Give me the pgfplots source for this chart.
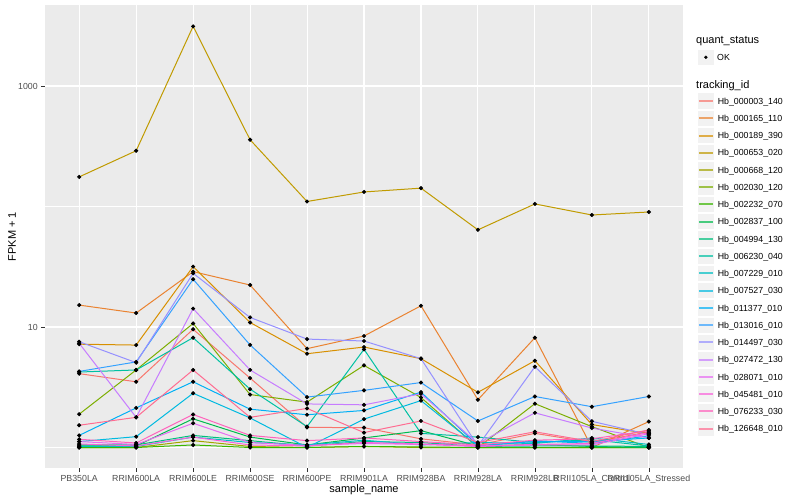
\documentclass[border=0pt]{standalone}
\usepackage{pgfplots}
\pgfplotsset{compat=1.18}
\usepackage{pgfplotstable}
\usepackage{fontspec}
\setmainfont{Liberation Sans}

\definecolor{panelbg}{HTML}{EBEBEB}
\definecolor{keybg}{HTML}{F2F2F2}
\definecolor{labgray}{HTML}{4D4D4D}
\definecolor{tickgray}{HTML}{333333}
\definecolor{c1}{HTML}{F8766D}
\definecolor{c2}{HTML}{EA8331}
\definecolor{c3}{HTML}{D89000}
\definecolor{c4}{HTML}{C09B00}
\definecolor{c5}{HTML}{A3A500}
\definecolor{c6}{HTML}{7CAE00}
\definecolor{c7}{HTML}{39B600}
\definecolor{c8}{HTML}{00BB4E}
\definecolor{c9}{HTML}{00BF7D}
\definecolor{c10}{HTML}{00C1A3}
\definecolor{c11}{HTML}{00BFC4}
\definecolor{c12}{HTML}{00BAE0}
\definecolor{c13}{HTML}{00B0F6}
\definecolor{c14}{HTML}{35A2FF}
\definecolor{c15}{HTML}{9590FF}
\definecolor{c16}{HTML}{C77CFF}
\definecolor{c17}{HTML}{E76BF3}
\definecolor{c18}{HTML}{FA62DB}
\definecolor{c19}{HTML}{FF62BC}
\definecolor{c20}{HTML}{FF6C91}

% FPKM + 1 per sample (x = sample index 0..10)
\pgfplotstableread{
x  s1   s2    s3   s4   s5   s6   s7   s8   s9   s10  s11  s12  s13  s14  s15  s16  s17  s18  s19  s20
0  4.10 15.2  7.2  176  1.00 1.89 1.00 1.03 1.05 4.23 1.02 1.12 1.26 4.28 7.55 7.33 1.12 1.07 1.17 1.53
1  3.51 13.06 7.08 290  1.00 4.40 1.00 1.03 1.05 4.40 1.02 1.23 2.13 5.13 5.06 1.78 1.06 1.03 1.09 1.78
2  9.57 28.8  31.7 3125 1.14 10.7 1.05 1.73 1.26 8.15 1.22 2.82 3.51 24.9 27.9 14.2 1.59 1.22 1.88 4.40
3  3.77 22.3  10.9 358  1.02 2.75 1.00 1.22 1.14 3.05 1.10 1.76 2.08 7.10 12.0 4.40 1.10 1.05 1.26 1.78
4  1.47 6.61  6.0  110  1.00 2.38 1.00 1.05 1.03 1.49 1.05 1.00 1.87 2.62 7.94 2.30 1.04 1.03 1.14 2.11
5  1.46 8.42  6.82 132  1.02 4.80 1.02 1.20 1.12 6.53 1.15 1.72 2.03 2.98 7.65 2.26 1.08 1.10 1.20 1.33
6  1.18 15.0  5.46 142  1.00 2.60 1.01 1.38 1.10 1.31 1.05 2.45 2.88 3.46 5.46 2.79 1.06 1.07 1.12 1.66
7  1.05 2.49  2.87 64   1.00 1.00 1.00 1.03 1.02 1.22 1.10 1.02 1.04 1.66 1.03 1.08 1.02 1.03 1.05 1.10
8  1.31 8.15  5.25 105  1.00 2.31 1.00 1.06 1.03 1.10 1.08 1.14 1.12 2.65 4.68 1.94 1.05 1.06 1.15 1.35
9  1.10 1.00  1.55 85   1.00 1.49 1.00 1.02 1.03 1.16 1.20 1.08 1.12 2.18 1.65 1.45 1.05 1.08 1.18 1.12
10 1.35 1.64  1.30 90   1.00 1.00 1.00 1.00 1.02 1.03 1.06 1.25 1.20 2.65 1.28 1.20 1.30 1.33 1.38 1.40
}\fpkm

\begin{document}
\begin{tikzpicture}
\path (0bp,0bp) rectangle (800bp,500bp);

\begin{axis}[
    at={(45bp,32bp)}, anchor=south west,
    scale only axis, width=638bp, height=463bp,
    set layers, mark layer=axis foreground,
    ymode=log, ymin=0.676, ymax=4699,
    xmin=-0.6, xmax=10.6,
    xtick={0,...,10},
    xticklabels={PB350LA,RRIM600LA,RRIM600LE,RRIM600SE,RRIM600PE,RRIM901LA,RRIM928BA,RRIM928LA,RRIM928LB,RRII105LA\_Control,RRII105LA\_Stressed},
    ytick={10,1000}, yticklabels={10,1000},
    minor ytick={1,100},
    grid=both,
    major grid style={white, line width=1.07bp},
    minor grid style={white, line width=0.53bp},
    axis background/.style={fill=panelbg},
    axis line style={draw=none},
    tick align=outside, tick pos=left,
    major tick length=3.7bp, minor tick length=0pt,
    tick style={draw=tickgray, line width=0.5bp},
    /pgf/number format/assume math mode=true,
    ticklabel style={font=\fontsize{8.8bp}{10bp}\selectfont, text=labgray},
    every axis plot/.append style={line width=1bp, mark=*, mark size=1.5bp, mark options={black, fill=black}},
    legend style={at={(1.0219,0.8112)}, anchor=north west,
        draw=none, fill=none, inner sep=0pt, outer sep=0pt, row sep=0pt,
        font=\fontsize{8.8bp}{10bp}\selectfont,
        nodes={inner xsep=2.5bp, inner ysep=0pt, text height=6.4bp, text depth=0bp}},
    legend cell align=left,
    legend image code/.code={
        \fill[draw=white, fill=keybg] (0bp,-8.12bp) rectangle (17.28bp,8.12bp);
        \draw[#1, line width=2bp, opacity=0.7] (1.5bp,0bp) -- (15.78bp,0bp);
    },
]
\addplot[c1]  table[x=x, y=s1]  {\fpkm}; \addlegendentry{Hb\_000003\_140}
\addplot[c2]  table[x=x, y=s2]  {\fpkm}; \addlegendentry{Hb\_000165\_110}
\addplot[c3]  table[x=x, y=s3]  {\fpkm}; \addlegendentry{Hb\_000189\_390}
\addplot[c4]  table[x=x, y=s4]  {\fpkm}; \addlegendentry{Hb\_000653\_020}
\addplot[c5]  table[x=x, y=s5]  {\fpkm}; \addlegendentry{Hb\_000668\_120}
\addplot[c6]  table[x=x, y=s6]  {\fpkm}; \addlegendentry{Hb\_002030\_120}
\addplot[c7]  table[x=x, y=s7]  {\fpkm}; \addlegendentry{Hb\_002232\_070}
\addplot[c8]  table[x=x, y=s8]  {\fpkm}; \addlegendentry{Hb\_002837\_100}
\addplot[c9]  table[x=x, y=s9]  {\fpkm}; \addlegendentry{Hb\_004994\_130}
\addplot[c10] table[x=x, y=s10] {\fpkm}; \addlegendentry{Hb\_006230\_040}
\addplot[c11] table[x=x, y=s11] {\fpkm}; \addlegendentry{Hb\_007229\_010}
\addplot[c12] table[x=x, y=s12] {\fpkm}; \addlegendentry{Hb\_007527\_030}
\addplot[c13] table[x=x, y=s13] {\fpkm}; \addlegendentry{Hb\_011377\_010}
\addplot[c14] table[x=x, y=s14] {\fpkm}; \addlegendentry{Hb\_013016\_010}
\addplot[c15] table[x=x, y=s15] {\fpkm}; \addlegendentry{Hb\_014497\_030}
\addplot[c16] table[x=x, y=s16] {\fpkm}; \addlegendentry{Hb\_027472\_130}
\addplot[c17] table[x=x, y=s17] {\fpkm}; \addlegendentry{Hb\_028071\_010}
\addplot[c18] table[x=x, y=s18] {\fpkm}; \addlegendentry{Hb\_045481\_010}
\addplot[c19] table[x=x, y=s19] {\fpkm}; \addlegendentry{Hb\_076233\_030}
\addplot[c20] table[x=x, y=s20] {\fpkm}; \addlegendentry{Hb\_126648\_010}
\end{axis}

% quant_status key
\begin{axis}[
    at={(697bp,451bp)}, anchor=north west,
    scale only axis, width=1bp, height=1bp, hide axis,
    xmin=0, xmax=1, ymin=0, ymax=1,
    legend style={at={(0,1)}, anchor=north west,
        draw=none, fill=none, inner sep=0pt, outer sep=0pt,
        font=\fontsize{8.8bp}{10bp}\selectfont,
        nodes={inner xsep=2.5bp, inner ysep=0pt, text height=6.4bp, text depth=0bp}},
    legend image code/.code={
        \fill[draw=white, fill=keybg] (0bp,-8.12bp) rectangle (17.28bp,8.12bp);
        \draw[#1] plot coordinates {(8.64bp,0bp)};
    },
]
\addplot[draw=none, forget plot] coordinates {(0,0) (1,1)};
\addlegendimage{only marks, mark=*, mark size=1.5bp, black}
\addlegendentry{OK}
\end{axis}

\node[rotate=90, font=\fontsize{11bp}{13bp}\selectfont] at (12bp,263.5bp) {FPKM + 1};
\node[font=\fontsize{11bp}{13bp}\selectfont] at (364bp,10bp) {sample\_name};
\node[anchor=west, inner sep=0pt, font=\fontsize{11bp}{13bp}\selectfont] at (696bp,459bp) {quant\_status};
\node[anchor=west, inner sep=0pt, font=\fontsize{11bp}{13bp}\selectfont] at (696bp,414bp) {tracking\_id};
\end{tikzpicture}
\end{document}
